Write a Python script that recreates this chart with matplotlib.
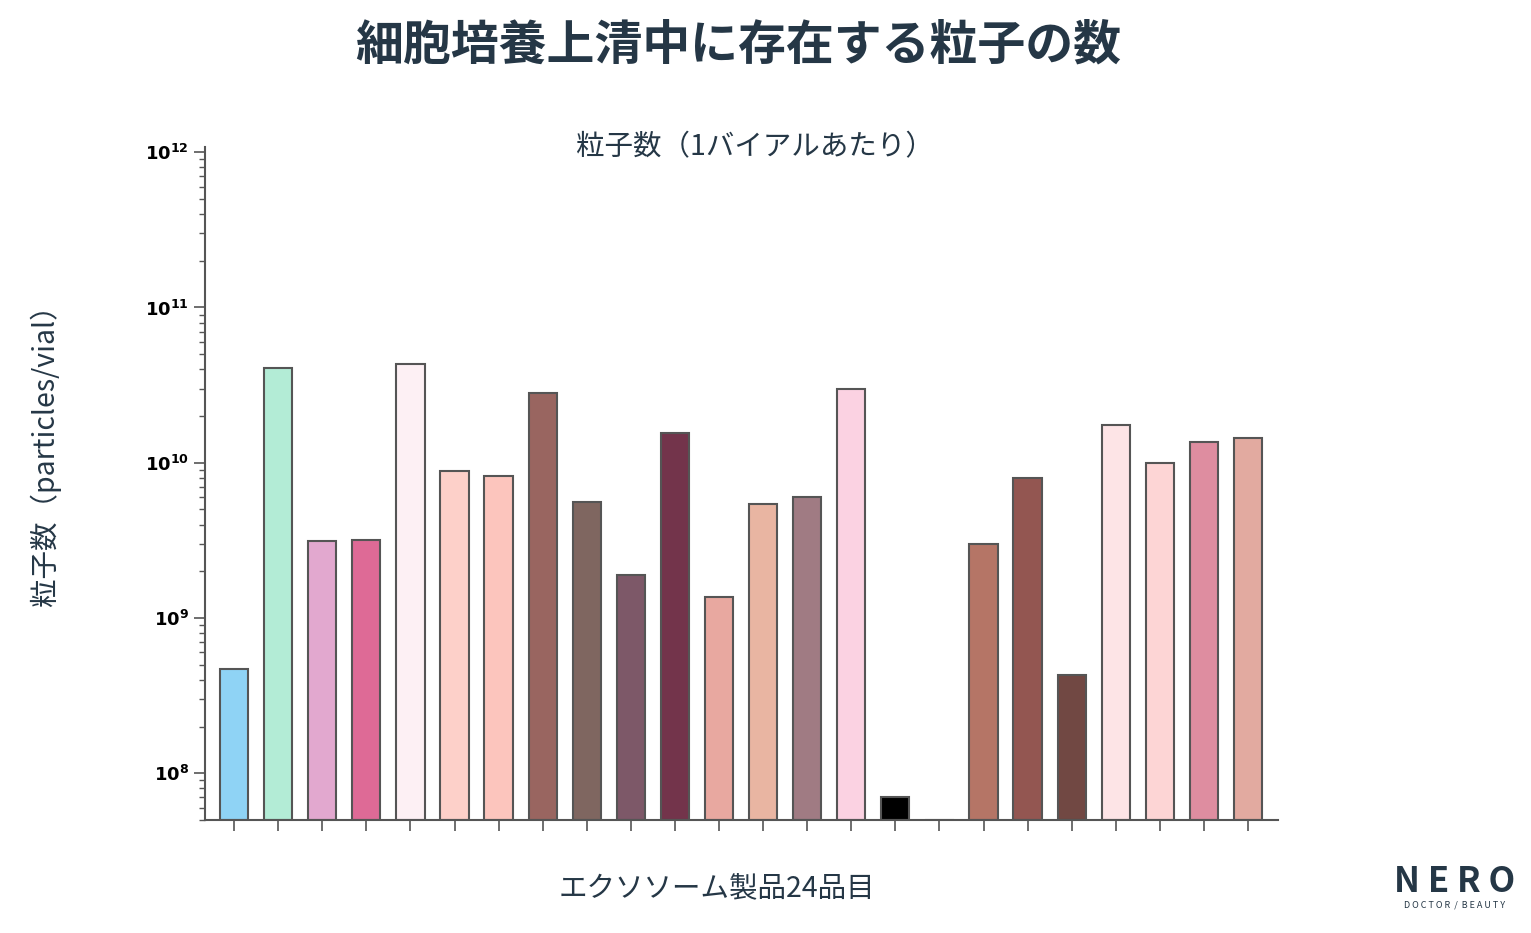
import matplotlib
matplotlib.use("Agg")
import matplotlib.pyplot as plt
import numpy as np

plt.rcParams['font.family'] = ['Noto Sans CJK JP', 'DejaVu Sans']

values = [4.7e8, 4.1e10, 3.15e9, 3.2e9, 4.3e10, 8.9e9, 8.2e9, 2.8e10, 5.6e9, 1.9e9,
          1.56e10, 1.37e9, 5.4e9, 6.0e9, 3.0e10, 7e7, 0, 3.0e9, 8.0e9, 4.3e8,
          1.75e10, 1.0e10, 1.35e10, 1.44e10]
colors = ['#8fd3f5', '#b3ecd6', '#e2a8cf', '#de6a96', '#fdf0f4', '#fdd0c9', '#fcc5bd',
          '#996560', '#7f6660', '#7d5868', '#73344b', '#e8a8a0', '#e9b5a2', '#a07b83',
          '#fbd2e2', '#000000', '#ffffff', '#b57566', '#935651', '#714843', '#fde4e6',
          '#fdd5d5', '#de8da0', '#e2aaa0']
title = '細胞培養上清中に存在する粒子の数'
top_label = '粒子数（1バイアルあたり）'
ylabel = '粒子数（particles/vial）'
xlabel = 'エクソソーム製品24品目'

W, H = 1531, 933
fig = plt.figure(figsize=(W/100, H/100), dpi=100)
bg = fig.add_axes([120/W, 1-870/H, 1240/W, 745/H], zorder=-1)
bg.set_facecolor('#f8f8f8')
bg.axis('off')
bg.patch.set_visible(True)
ax = fig.add_axes([205/W, 1-820/H, 1073/W, 673/H], zorder=1)
ax.set_facecolor('none')
x = np.arange(len(values))
bottom = 5e7
h = [v - bottom if v > 0 else 0 for v in values]
ax.bar(x, h, bottom=bottom, width=0.64, color=colors, edgecolor='#555555', linewidth=1.5)
ax.set_yscale('log')
ax.set_ylim(bottom, 1.08e12)
ax.set_xlim(-0.66, 23.68)
for s in ['top', 'right']:
    ax.spines[s].set_visible(False)
for s in ['left', 'bottom']:
    ax.spines[s].set_color('#555555')
    ax.spines[s].set_linewidth(1.5)
ax.set_xticks(x)
ax.set_xticklabels([])
ax.tick_params(axis='x', length=8, color='#555555', width=1.2)
ax.set_yticks([1e8, 1e9, 1e10, 1e11, 1e12])
ax.set_yticklabels([r'$\mathbf{10^{%d}}$' % e for e in [8, 9, 10, 11, 12]])
ax.tick_params(axis='y', which='major', length=8, color='#555555', width=1.2, labelsize=13)
ax.tick_params(axis='y', which='minor', length=4, color='#555555', width=1)

fig.text(738/W, 1-45/H, title, ha='center', va='center', fontsize=34.5, fontweight='bold', color='#253746')
fig.text(755/W, 1-147/H, top_label, ha='center', va='center', fontsize=20.5, color='#253746')
fig.text(45/W, 1-448/H, ylabel, ha='center', va='center', rotation=90, fontsize=20.5, color='#253746')
fig.text(717/W, 1-888/H, xlabel, ha='center', va='center', fontsize=20.5, color='#253746')
fig.text(1455/W, 1-882/H, 'N E R O', ha='center', va='center', fontsize=25, fontweight='bold', color='#253746')
fig.text(1455/W, 1-905/H, 'D O C T O R  /  B E A U T Y', ha='center', va='center', fontsize=6.5, color='#253746')
fig.savefig('out.png', dpi=100)
